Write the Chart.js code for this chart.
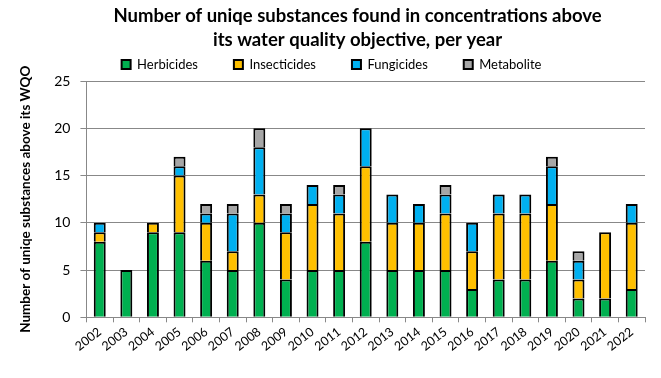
<!DOCTYPE html>
<html>
<head>
<meta charset="utf-8">
<script src="https://cdn.jsdelivr.net/npm/chart.js@4/dist/chart.umd.min.js"></script>
<style>
  html, body { margin: 0; padding: 0; background: #fff; }
  #wrap { width: 661px; height: 378px; }
</style>
</head>
<body>
<div id="wrap"><canvas id="wqoChart" width="661" height="378"></canvas></div>
<script>
// Data
const years = ['2002', '2003', '2004', '2005', '2006', '2007', '2008', '2009', '2010', '2011', '2012',
               '2013', '2014', '2015', '2016', '2017', '2018', '2019', '2020', '2021', '2022'];
const herbicides   = [8, 5, 9, 9, 6, 5, 10, 4, 5, 5, 8, 5, 5, 5, 3, 4, 4, 6, 2, 2, 3];
const insecticides = [1, 0, 1, 6, 4, 2, 3, 5, 7, 6, 8, 5, 5, 6, 4, 7, 7, 6, 2, 7, 7];
const fungicides   = [1, 0, 0, 1, 1, 4, 5, 2, 2, 2, 4, 3, 2, 2, 3, 2, 2, 4, 2, 0, 2];
const metabolite   = [0, 0, 0, 1, 1, 1, 2, 1, 0, 1, 0, 0, 0, 1, 0, 0, 0, 1, 1, 0, 0];

const yTicks = [0, 5, 10, 15, 20, 25];

const font = 'Lato, "Open Sans", sans-serif';

function series(label, data, color) {
    return {
        label: label,
        data: data.map(v => v === 0 ? null : v),
        backgroundColor: color,
        borderColor: '#000',
        borderWidth: 2,
        borderSkipped: 'start',
        barPercentage: 0.9,
        categoryPercentage: 0.5
    };
}

// nudge the title to the right, over the plot like in the original
const shiftTitle = {
    id: 'shiftTitle',
    afterLayout(chart) {
        const t = chart.titleBlock;
        if (t) { t.left += 26; t.right += 26; }
    }
};

const ctx = document.getElementById('wqoChart').getContext('2d');

new Chart(ctx, {
    type: 'bar',
    data: {
        labels: years,
        datasets: [
            series('Herbicides', herbicides, '#00B050'),
            series('Insecticides', insecticides, '#FFC000'),
            series('Fungicides', fungicides, '#00B0F0'),
            series('Metabolite', metabolite, '#A6A6A6')
        ]
    },
    plugins: [shiftTitle],
    options: {
        responsive: false,
        animation: false,
        layout: { padding: { left: 18, right: 16, top: 4, bottom: 22 } },
        plugins: {
            title: {
                display: true,
                text: ['Number of uniqe substances found in concentrations above',
                       'its water quality objective, per year'],
                color: '#000',
                font: { family: font, size: 18.5, weight: 'bold', lineHeight: 1.3 },
                padding: { top: 0, bottom: 0 }
            },
            legend: {
                position: 'top',
                labels: {
                    color: '#000',
                    font: { family: font, size: 13 },
                    boxWidth: 9,
                    boxHeight: 9,
                    padding: 6,
                    // wide gaps between entries, as in the original legend
                    generateLabels(chart) {
                        const items = Chart.defaults.plugins.legend.labels.generateLabels(chart);
                        items.forEach((it, i) => {
                            if (i < items.length - 1) it.text += '\u00a0'.repeat(9);
                        });
                        return items;
                    }
                }
            },
            tooltip: { enabled: false }
        },
        scales: {
            x: {
                stacked: true,
                grid: {
                    display: true,
                    drawOnChartArea: false,
                    offset: true,
                    tickLength: 5,
                    color: '#888'
                },
                border: { color: '#888' },
                ticks: {
                    color: '#000',
                    font: { family: font, size: 12.5 },
                    autoSkip: false,
                    maxRotation: 38,
                    minRotation: 38,
                    padding: 2
                }
            },
            y: {
                stacked: true,
                min: 0,
                max: 25,
                afterBuildTicks: axis => { axis.ticks = yTicks.map(v => ({ value: v })); },
                grid: { color: '#888', tickLength: 6 },
                border: { color: '#888' },
                ticks: {
                    color: '#000',
                    font: { family: font, size: 14 },
                    padding: 10
                },
                title: {
                    display: true,
                    text: 'Number of uniqe substances above its WQO',
                    color: '#000',
                    font: { family: font, size: 13.5, weight: 'bold' },
                    padding: { top: 0, bottom: 10 }
                }
            }
        }
    }
});
</script>
</body>
</html>
